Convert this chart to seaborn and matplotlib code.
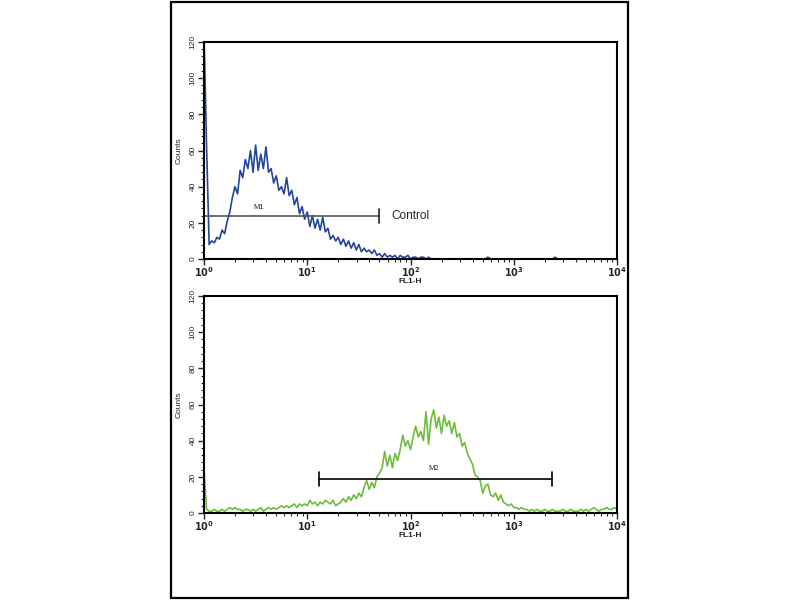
import numpy as np
import pandas as pd
import seaborn as sns
import matplotlib.pyplot as plt
from matplotlib.ticker import MultipleLocator, LogLocator, FixedLocator
from matplotlib.patches import Rectangle

# FL1-H channels: 40 log bins per decade, 10^0 .. 10^4
channels = 10 ** (np.arange(161) / 40)

# Control (blue) counts
control_counts = [
    125, 62, 8, 10, 9, 12, 11, 16, 14, 21,
    26, 34, 40, 36, 49, 45, 55, 50, 60, 48,
    63, 49, 58, 50, 62, 48, 50, 42, 46, 38,
    40, 36, 45, 35, 38, 30, 34, 25, 29, 22,
    26, 18, 24, 17, 22, 16, 23, 15, 17, 11,
    13, 10, 12, 8, 11, 7, 10, 6, 9, 5,
    8, 4, 6, 4, 5, 3, 5, 2, 3, 1,
    3, 1, 2, 1, 2, 0, 2, 1, 1, 2,
    0, 1, 1, 0, 1, 1, 0, 1, 0, 0,
    0, 0, 0, 0, 0, 0, 0, 0, 0, 0,
    0, 0, 0, 0, 0, 0, 0, 0, 0, 0,
    1, 0, 0, 0, 0, 0, 0, 0, 0, 0,
    0, 0, 0, 0, 0, 0, 0, 0, 0, 0,
    0, 0, 0, 0, 0, 0, 1, 0, 0, 0,
    0, 0, 0, 0, 0, 0, 0, 0, 0, 0,
    0, 0, 0, 0, 0, 0, 0, 0, 0, 0,
    0,
]

# Sample (green) counts
sample_counts = [
    24, 2, 1, 1, 2, 1, 1, 2, 1, 2,
    3, 2, 3, 2, 2, 1, 2, 2, 1, 2,
    1, 2, 3, 1, 2, 3, 2, 3, 2, 3,
    4, 3, 4, 3, 4, 5, 3, 5, 4, 5,
    4, 7, 5, 6, 4, 6, 5, 7, 6, 5,
    7, 4, 5, 6, 8, 6, 9, 7, 10, 8,
    11, 9, 14, 18, 13, 17, 14, 20, 22, 25,
    34, 26, 32, 25, 33, 29, 35, 43, 37, 40,
    35, 42, 48, 42, 45, 40, 56, 38, 52, 57,
    47, 53, 44, 54, 48, 51, 44, 50, 42, 44,
    37, 39, 33, 30, 27, 21, 20, 18, 11, 15,
    16, 10, 9, 11, 7, 10, 6, 5, 4, 5,
    3, 3, 2, 3, 2, 2, 1, 2, 1, 2,
    1, 1, 2, 1, 1, 2, 1, 1, 1, 2,
    1, 1, 2, 1, 1, 1, 2, 1, 2, 1,
    2, 3, 2, 1, 2, 2, 3, 2, 2, 3,
    2,
]

# marker gates (FL1-H range, height in counts)
m1_range = [1.0, 49.5]
m1_level = 23.8
m2_range = [12.9, 2330]
m2_level = 18.8

sns.set_style('ticks')
plt.rcParams['font.family'] = ['Liberation Sans', 'DejaVu Sans']

fig = plt.figure(figsize=(8, 6), dpi=100)
fig.patches.append(Rectangle((171 / 800, 2 / 600), 457 / 800, 596 / 600,
                             transform=fig.transFigure, fill=False,
                             edgecolor='black', linewidth=1.6))

ax1 = fig.add_axes([204 / 800, 341 / 600, 413 / 800, 217 / 600])
ax2 = fig.add_axes([204 / 800, 87 / 600, 413 / 800, 217 / 600])

top = pd.DataFrame({'FL1-H': channels, 'Counts': control_counts})
bottom = pd.DataFrame({'FL1-H': channels, 'Counts': sample_counts})

sns.lineplot(data=top, x='FL1-H', y='Counts', ax=ax1, color='#23469a', linewidth=1.2)
sns.lineplot(data=bottom, x='FL1-H', y='Counts', ax=ax2, color='#6cbd3c', linewidth=1.2)

for ax in (ax1, ax2):
    ax.set_xscale('log')
    ax.set_xlim(1, 1e4)
    ax.set_ylim(0, 120)
    ax.yaxis.set_major_locator(MultipleLocator(20))
    ax.yaxis.set_minor_locator(MultipleLocator(4))
    ax.xaxis.set_major_locator(FixedLocator([1, 10, 100, 1000, 10000]))
    ax.xaxis.set_minor_locator(LogLocator(base=10, subs=np.arange(2, 10)))
    ax.set_xticklabels([r'$\mathbf{10^{0}}$', r'$\mathbf{10^{1}}$', r'$\mathbf{10^{2}}$',
                        r'$\mathbf{10^{3}}$', r'$\mathbf{10^{4}}$'], fontsize=7)
    for lab in ax.get_yticklabels():
        lab.set_rotation(90)
        lab.set_va('center')
        lab.set_fontsize(6)
    ax.tick_params(axis='x', which='major', direction='out', length=4, width=1.0, pad=0.5)
    ax.tick_params(axis='y', which='major', direction='out', length=4, width=1.0, pad=1.5)
    ax.tick_params(which='minor', direction='out', length=2.5, width=0.8)
    for s in ax.spines.values():
        s.set_visible(True)
        s.set_linewidth(1.5)
        s.set_color('black')
    ax.set_xlabel('FL1-H', fontsize=6, fontweight='bold', labelpad=-1)
    ax.set_ylabel('Counts', fontsize=6, labelpad=5)
    ax.grid(False)

# M1 gate on control
ax1.plot(m1_range, [m1_level, m1_level], color='#555555', linewidth=1.2)
ax1.plot([m1_range[1], m1_range[1]], [m1_level - 4, m1_level + 4], color='#222222', linewidth=1.2)
ax1.text(3.4, m1_level + 2.5, 'M1', fontsize=5.5, ha='center', va='bottom')
ax1.text(66, m1_level, 'Control', fontsize=8.5, ha='left', va='center')

# M2 gate on sample
ax2.plot(m2_range, [m2_level, m2_level], color='black', linewidth=1.2)
for xv in m2_range:
    ax2.plot([xv, xv], [m2_level - 4, m2_level + 4], color='black', linewidth=1.2)
ax2.text(169, m2_level + 4, 'M2', fontsize=5.5, ha='center', va='bottom')

fig.savefig('out.png', dpi=100, facecolor='white')
